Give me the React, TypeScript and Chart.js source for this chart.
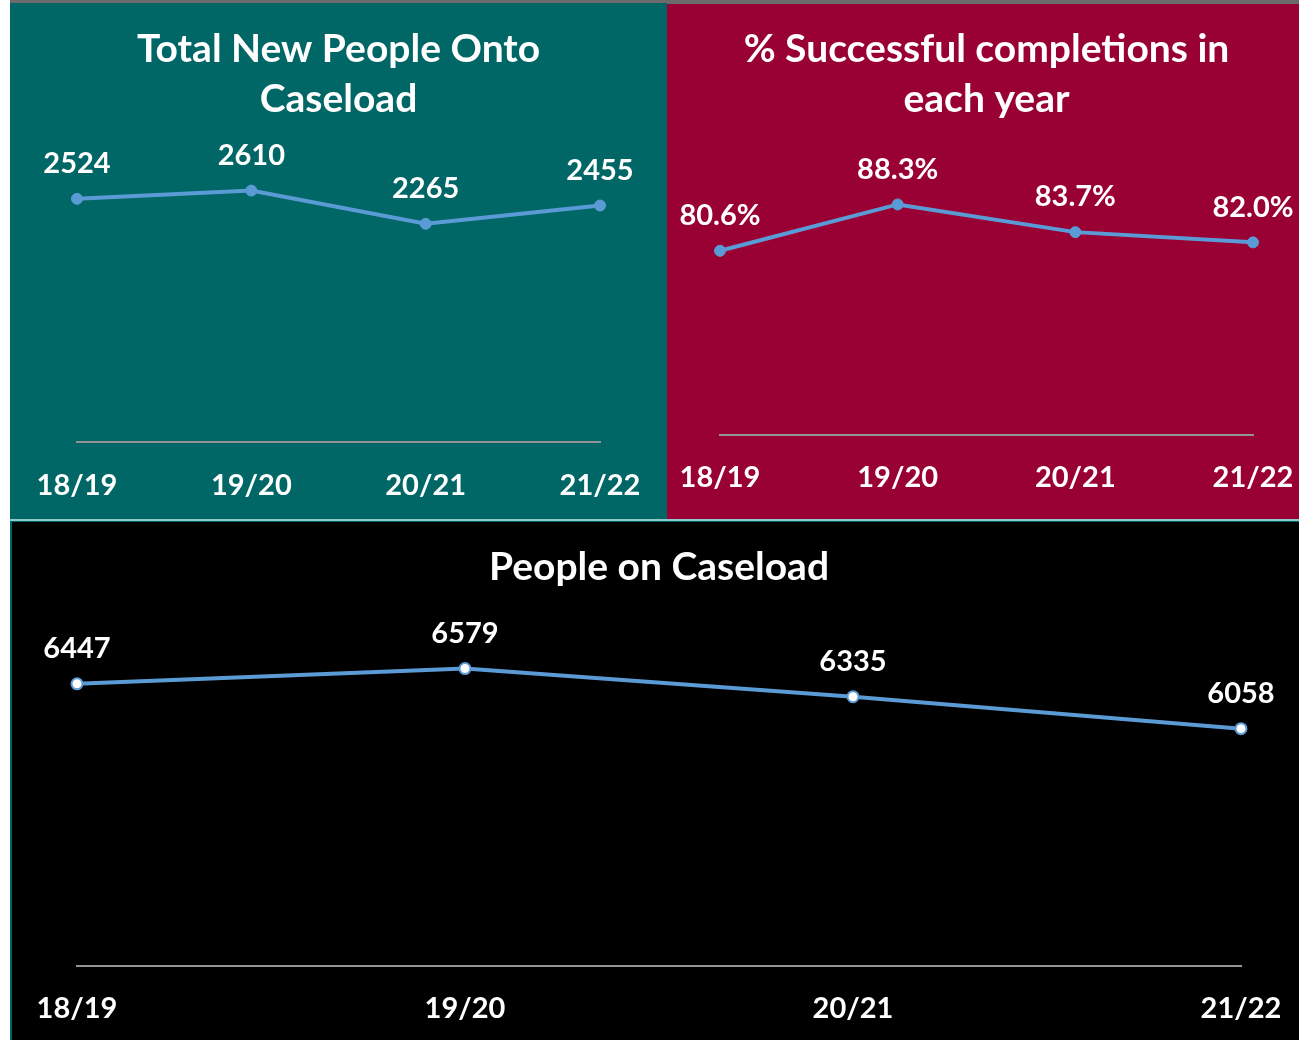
import React, { useEffect, useRef } from 'react';
import { Chart, registerables } from 'chart.js';

Chart.register(...registerables);

// ---- data ----
const years = ['18/19', '19/20', '20/21', '21/22'];
const newPeople = [2524, 2610, 2265, 2455];
const completionsPct = [80.6, 88.3, 83.7, 82.0];
const caseload = [6447, 6579, 6335, 6058];

const titleNewPeople = ['Total New People Onto', 'Caseload'];
const titleCompletions = ['% Successful completions in', 'each year'];
const titleCaseload = ['People on Caseload'];

const FONT = 'Lato, "Open Sans", sans-serif';
const LINE_BLUE = '#5B9BD5';
const AXIS_GREY = '#939393';

type PanelProps = {
  labels: string[];
  values: number[];
  fmt: (v: number) => string;
  yMin: number;
  yMax: number;
  width: number;
  height: number;
  padLeft: number;
  padRight: number;
  title: string[];
  titlePadTop: number;
  titlePadBottom: number;
  axisHeight: number;
  tickPad: number;
  hollowPoints?: boolean;
};

function LinePanel(p: PanelProps) {
  const ref = useRef<HTMLCanvasElement | null>(null);
  useEffect(() => {
    if (!ref.current) return;
    const labelPlugin = {
      id: 'valueLabels',
      afterDatasetsDraw(chart: any) {
        const ctx = chart.ctx;
        const meta = chart.getDatasetMeta(0);
        const data = chart.data.datasets[0].data as number[];
        ctx.save();
        ctx.font = `bold 29px ${FONT}`;
        ctx.fillStyle = '#ffffff';
        ctx.textAlign = 'center';
        ctx.textBaseline = 'middle';
        meta.data.forEach((pt: any, i: number) => {
          ctx.fillText(p.fmt(data[i]), pt.x, pt.y - 35);
        });
        ctx.restore();
      },
    };
    const chart = new Chart(ref.current, {
      type: 'line',
      data: {
        labels: p.labels,
        datasets: [
          {
            data: p.values,
            borderColor: LINE_BLUE,
            borderWidth: 4,
            tension: 0,
            pointRadius: p.hollowPoints ? 5.5 : 5.5,
            pointHoverRadius: 5,
            pointBackgroundColor: p.hollowPoints ? '#ffffff' : LINE_BLUE,
            pointBorderColor: LINE_BLUE,
            pointBorderWidth: p.hollowPoints ? 2 : 1,
            clip: false as any,
          },
        ],
      },
      options: {
        responsive: false,
        animation: false,
        events: [],
        layout: { padding: { left: p.padLeft, right: p.padRight, top: 0, bottom: 0 } },
        plugins: {
          legend: { display: false },
          tooltip: { enabled: false },
          title: {
            display: true,
            text: p.title,
            color: '#ffffff',
            font: { family: FONT, size: 39, weight: 'bold', lineHeight: 50 / 39 },
            padding: { top: p.titlePadTop, bottom: p.titlePadBottom },
          },
        },
        scales: {
          x: {
            type: 'category',
            offset: false,
            grid: { display: false, drawTicks: false, tickLength: 0 },
            border: { display: true, color: AXIS_GREY, width: 2 },
            ticks: {
              color: '#ffffff',
              font: { family: FONT, size: 29, weight: 'bold', lineHeight: 1.2 },
              padding: p.tickPad,
              maxRotation: 0,
              autoSkip: false,
            },
            afterFit: (s: any) => {
              s.height = p.axisHeight;
              s.paddingLeft = 0;
              s.paddingRight = 0;
            },
          },
          y: {
            display: false,
            min: p.yMin,
            max: p.yMax,
          },
        },
      },
      plugins: [labelPlugin],
    });
    return () => chart.destroy();
  }, []);
  return (
    <canvas
      ref={ref}
      width={p.width}
      height={p.height}
      style={{ width: p.width, height: p.height, display: 'block' }}
    />
  );
}

export default function App() {
  return (
    <div
      style={{
        position: 'fixed',
        left: 0,
        top: 0,
        width: 1299,
        height: 1040,
        background: '#ffffff',
        overflow: 'hidden',
      }}
    >
      <div style={{ position: 'absolute', left: 10, top: 0, width: 1289, height: 3, background: '#6b6b6b' }} />
      <div style={{ position: 'absolute', left: 10, top: 3, width: 1289, height: 1037, background: '#006666' }} />
      <div style={{ position: 'absolute', left: 10, top: 3, width: 657, height: 516, background: '#006666' }}>
        <LinePanel
          labels={years}
          values={newPeople}
          fmt={(v) => String(v)}
          yMin={0}
          yMax={3000}
          width={657}
          height={516}
          padLeft={67}
          padRight={67}
          title={titleNewPeople}
          titlePadTop={21}
          titlePadBottom={29}
          axisHeight={77}
          tickPad={26.4}
        />
      </div>
      <div style={{ position: 'absolute', left: 667, top: 3, width: 632, height: 1, background: '#6b6b6b' }} />
      <div style={{ position: 'absolute', left: 667, top: 4, width: 632, height: 515, background: '#990033' }}>
        <LinePanel
          labels={years}
          values={completionsPct}
          fmt={(v) => v.toFixed(1) + '%'}
          yMin={50}
          yMax={100}
          width={632}
          height={515}
          padLeft={53}
          padRight={46}
          title={titleCompletions}
          titlePadTop={20}
          titlePadBottom={10}
          axisHeight={84}
          tickPad={25.4}
        />
      </div>
      <div style={{ position: 'absolute', left: 10, top: 519, width: 1289, height: 2, background: '#8fcaca' }} />
      <div style={{ position: 'absolute', left: 12, top: 522, width: 1287, height: 518, background: '#000000' }}>
        <LinePanel
          labels={years}
          values={caseload}
          fmt={(v) => String(v)}
          yMin={4000}
          yMax={7000}
          width={1287}
          height={518}
          padLeft={65}
          padRight={58}
          title={titleCaseload}
          titlePadTop={20}
          titlePadBottom={28}
          axisHeight={74}
          tickPad={25.4}
          hollowPoints
        />
      </div>
    </div>
  );
}
